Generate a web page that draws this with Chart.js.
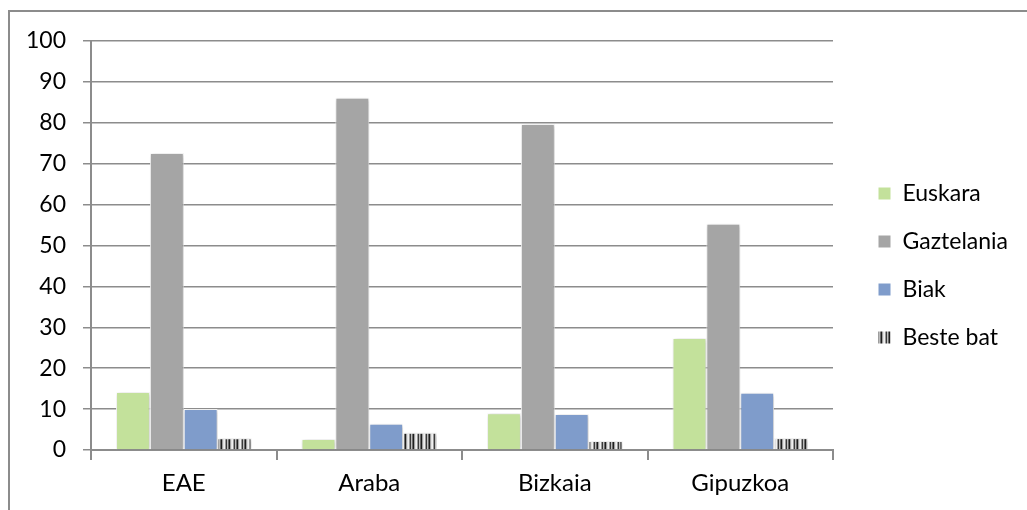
<!DOCTYPE html>
<html>
<head>
<meta charset="utf-8">
<script src="https://cdn.jsdelivr.net/npm/chart.js@4/dist/chart.umd.min.js"></script>
<style>
  html, body { margin: 0; padding: 0; background: #fff; }
  #frame {
    position: absolute; left: 8px; top: 10px; width: 1040px; height: 520px;
    border-left: 2px solid #8c8c8c; border-top: 2px solid #8c8c8c;
  }
  #chart { position: absolute; left: 0; top: 0; }
</style>
</head>
<body>
<div id="frame"></div>
<canvas id="chart" width="1027" height="510"></canvas>
<script>
const regions = ['EAE', 'Araba', 'Bizkaia', 'Gipuzkoa'];
const euskara = [14.2, 2.7, 9.0, 27.4];
const gaztelania = [72.6, 86.1, 79.7, 55.3];
const biak = [10.0, 6.4, 8.8, 14.0];
const besteBat = [2.9, 4.2, 2.2, 2.9];
const seriesNames = ['Euskara', 'Gaztelania', 'Biak', 'Beste bat'];
const yTicks = [0, 10, 20, 30, 40, 50, 60, 70, 80, 90, 100];

// striped fill for "Beste bat"
function stripes() {
    const c = document.createElement('canvas');
    c.width = 8;
    c.height = 4;
    const g = c.getContext('2d');
    const cols = ['#f0f0f0', '#9a9a9a', '#3a3a3a', '#bdbdbd', '#6a6a6a', '#1e1e1e', '#a0a0a0', '#e0e0e0'];
    cols.forEach((col, i) => {
        g.fillStyle = col;
        g.fillRect(i, 0, 1, 4);
    });
    return g.createPattern(c, 'repeat');
}

const gridGray = '#8c8c8c';
const font = { family: 'Lato', size: 24 };

const shadowPlugin = {
    id: 'barShadow',
    beforeDatasetsDraw(chart) {
        const ctx = chart.ctx;
        ctx.save();
        ctx.shadowColor = 'rgba(0,0,0,0.25)';
        ctx.shadowBlur = 4;
        ctx.shadowOffsetX = 1;
        ctx.shadowOffsetY = 1;
    },
    afterDatasetsDraw(chart) {
        chart.ctx.restore();
    }
};

const legendPlugin = {
    id: 'legendPlace',
    beforeInit(chart) {
        const lg = chart.legend;
        if (!lg) return;
        const fit = lg.fit;
        lg.fit = function () {
            fit.call(this);
            this.width = 194;
        };
        const draw = lg.draw;
        lg.draw = function () {
            chart.ctx.save();
            chart.ctx.translate(20, -5);
            draw.call(this);
            chart.ctx.restore();
        };
    }
};

const canvas = document.getElementById('chart');

new Chart(canvas, {
    type: 'bar',
    data: {
        labels: regions,
        datasets: [
            { label: seriesNames[0], data: euskara, backgroundColor: '#c3e19b' },
            { label: seriesNames[1], data: gaztelania, backgroundColor: '#a5a5a5' },
            { label: seriesNames[2], data: biak, backgroundColor: '#7f9ccb' },
            { label: seriesNames[3], data: besteBat, backgroundColor: stripes() },
        ].map(d => Object.assign(d, {
            borderColor: '#ffffff',
            borderWidth: 1,
            categoryPercentage: 0.73,
            barPercentage: 1.0,
        })),
    },
    options: {
        responsive: false,
        animation: false,
        layout: {
            padding: { top: 41, left: 11, right: 0, bottom: 10 }
        },
        plugins: {
            legend: {
                position: 'right',
                labels: {
                    color: '#000',
                    font: { family: 'Lato', size: 23 },
                    boxWidth: 13,
                    boxHeight: 13,
                    padding: 25,
                }
            },
            tooltip: { enabled: false }
        },
        scales: {
            x: {
                afterFit: (s) => { s.height = 50; },
                grid: {
                    offset: true,
                    drawOnChartArea: false,
                    color: gridGray,
                    lineWidth: 2,
                    tickLength: 10,
                },
                border: { color: gridGray, width: 2 },
                ticks: { color: '#000', font: font, padding: 9 },
            },
            y: {
                min: 0,
                max: 100,
                afterFit: (s) => { s.width = 80; },
                afterBuildTicks: (s) => { s.ticks = yTicks.map(v => ({ value: v })); },
                grid: {
                    color: gridGray,
                    lineWidth: 1.5,
                    tickLength: 8,
                },
                border: { color: gridGray, width: 2 },
                ticks: { color: '#000', font: { family: 'Lato', size: 23 }, padding: 17 },
            }
        }
    },
    plugins: [shadowPlugin, legendPlugin]
});
</script>
</body>
</html>
